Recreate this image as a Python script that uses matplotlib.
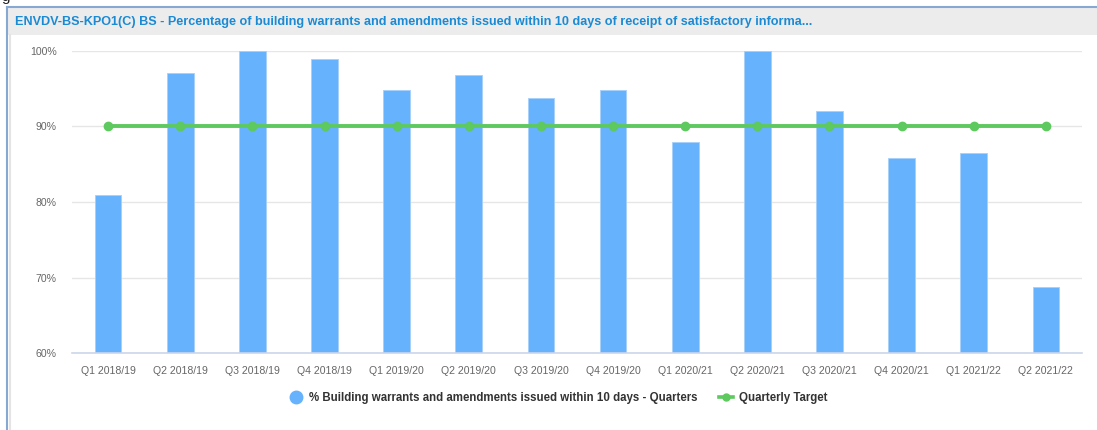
import matplotlib
matplotlib.use("Agg")
import matplotlib.pyplot as plt
from matplotlib.lines import Line2D
from matplotlib.patches import Rectangle

plt.rcParams['font.family'] = ['Liberation Sans', 'DejaVu Sans']

categories = ["Q1 2018/19", "Q2 2018/19", "Q3 2018/19", "Q4 2018/19",
              "Q1 2019/20", "Q2 2019/20", "Q3 2019/20", "Q4 2019/20",
              "Q1 2020/21", "Q2 2020/21", "Q3 2020/21", "Q4 2020/21",
              "Q1 2021/22", "Q2 2021/22"]
actual = [80.9, 97.1, 100.0, 98.9, 94.8, 96.8, 93.8, 94.8,
          87.9, 100.0, 92.1, 85.8, 86.5, 68.8]
target = [90] * 14
y_ticks = [60, 70, 80, 90, 100]
title = ("ENVDV-BS-KPO1(C) BS - Percentage of building warrants and amendments "
         "issued within 10 days of receipt of satisfactory informa...")
bar_label = "% Building warrants and amendments issued within 10 days - Quarters"
line_label = "Quarterly Target"

W, H = 1097, 430
fig = plt.figure(figsize=(W / 100, H / 100), dpi=100)
fig.patch.set_facecolor("white")

def fx(px):
    return px / W

def fy(py):
    return 1 - py / H

# panel frame and title bar
fig.patches.append(Rectangle((fx(8), fy(35)), 1, fy(7) - fy(35), transform=fig.transFigure,
                             facecolor="#ececec", edgecolor="none", zorder=0))
fig.add_artist(Line2D([fx(7), 1], [fy(6.5), fy(6.5)], transform=fig.transFigure,
                      color="#86a8d2", lw=1.5))
fig.add_artist(Line2D([fx(7), fx(7)], [0, fy(6.5)], transform=fig.transFigure,
                      color="#86a8d2", lw=1.5))
fig.add_artist(Line2D([fx(9.5), fx(9.5)], [0, fy(35)], transform=fig.transFigure,
                      color="#e4e4e4", lw=1.5))
fig.text(fx(15), fy(22), title, color="#1a8ad4", fontsize=9.1, fontweight="bold",
         va="center", ha="left")
fig.text(fx(1), fy(-3), "g", color="#222222", fontsize=11, va="center", ha="left")

ax = fig.add_axes([fx(72), fy(353), fx(1082) - fx(72), fy(51) - fy(353)])
x = list(range(len(categories)))
ax.bar(x, actual, width=0.37, bottom=0, color="#66b2fd", edgecolor="#a6d0fb",
       linewidth=0.6, zorder=2, label=bar_label)
ax.plot(x, target, color="#5ec95e", lw=2.8, marker="o", markersize=6,
        zorder=3, label=line_label)

ax.set_xlim(-0.5, len(categories) - 0.5)
ax.set_ylim(60, 100)
ax.set_yticks(y_ticks)
ax.set_yticklabels([f"{v}%" for v in y_ticks])
ax.set_xticks(x)
ax.set_xticklabels(categories)
ax.tick_params(axis="both", length=0, labelsize=7.6, labelcolor="#666666")
ax.tick_params(axis="x", pad=9)
ax.tick_params(axis="y", pad=11)
for lab in ax.get_yticklabels():
    lab.set_horizontalalignment("right")
ax.grid(axis="y", color="#e6e6e6", lw=1, zorder=0)
ax.set_axisbelow(True)
for s in ["top", "right", "left"]:
    ax.spines[s].set_visible(False)
ax.spines["bottom"].set_color("#ccd6eb")
ax.spines["bottom"].set_linewidth(1.2)

handles = [Line2D([], [], marker="o", color="none", markerfacecolor="#66b2fd",
                  markeredgecolor="#66b2fd", markersize=9),
           Line2D([], [], marker="o", color="#5ec95e", lw=2.6, markersize=5)]
leg = fig.legend(handles, [bar_label, line_label], loc="center",
                 bbox_to_anchor=(fx(558), fy(398)), ncol=2, frameon=False,
                 prop={"weight": "bold", "size": 8.3}, handlelength=1.2,
                 handletextpad=0.5, columnspacing=1.9)
for t in leg.get_texts():
    t.set_color("#333333")

fig.savefig("out.png", dpi=100, facecolor="white")
